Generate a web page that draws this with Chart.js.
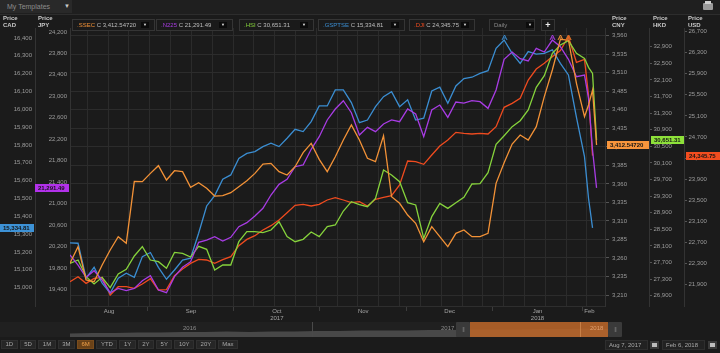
<!DOCTYPE html>
<html>
<head>
<meta charset="utf-8">
<title>Index comparison</title>
<script src="https://cdn.jsdelivr.net/npm/chart.js@4.4.1/dist/chart.umd.min.js"></script>
<style>
  html, body { margin: 0; padding: 0; background: #1b1b1b; }
  body { width: 720px; height: 353px; position: relative; overflow: hidden;
         font-family: "Liberation Sans", Arial, sans-serif; color: #9a9a9a; }
  canvas { position: absolute; left: 0; }
  .a { position: absolute; white-space: nowrap; }
  #topbar { left: 0; top: 0; width: 720px; height: 14px; background: #1f1f1f; border-bottom: 1px solid #2d2d2d; }
  #tpl { left: 0; top: 0; width: 72px; height: 13px; background: #292929; font-size: 7px; line-height: 13px; color: #8c8c8c; }
  .price { font-size: 6px; font-weight: bold; color: #c8c8c8; line-height: 7px; }
  .lg { top: 19px; height: 12px; box-sizing: border-box; border: 1px solid #353535; background: #1a1a1a;
        font-size: 6px; line-height: 10px; color: #bdbdbd; }
  .dd { position: absolute; top: 2px; width: 8px; height: 6px; background: #0b0b0b; color: #e0e0e0;
        font-size: 4px; line-height: 6px; text-align: center; }
  #btns { left: 1px; top: 340px; display: flex; gap: 2px; }
  #btns span { height: 9px; box-sizing: border-box; padding: 0 3.5px; background: #262626; border: 1px solid #303030;
               font-size: 6px; line-height: 7px; color: #a8a8a8; }
  #btns span.on { background: #6a4218; color: #f2a24a; border-color: #7a4c1c; }
  .date { top: 340px; height: 10px; box-sizing: border-box; background: #222; border: 1px solid #2e2e2e;
          font-size: 6px; line-height: 8px; color: #a8a8a8; padding-left: 3px; }
  .cal { top: 341px; width: 9px; height: 8px; background: #3a3a3a; }
  .cal i { position: absolute; left: 2px; top: 2px; width: 5px; height: 4px; background: #bdbdbd; }
  .navlbl { top: 325px; font-size: 6px; color: #8a8a8a; }
  .handle { top: 322px; width: 14px; height: 15px; background: #3a3a3a; border-radius: 1px;
            font-size: 6px; line-height: 15px; color: #777; text-align: center; letter-spacing: -1px; }
</style>
</head>
<body>
<canvas id="main" width="720" height="353"></canvas>

<div id="topbar" class="a"></div>
<div id="tpl" class="a"><span style="margin-left:7px">My Templates</span><span style="position:absolute;left:64px;font-size:6px;color:#ccc">&#9660;</span></div>
<div class="a" style="left:703px;top:3px;width:10px;height:7px;background:#9a9a9a;border-radius:1px"></div>
<div class="a" style="left:705px;top:1px;width:6px;height:3px;background:#cfcfcf"></div>

<div class="a price" style="left:3px;top:15px">Price<br>CAD</div>
<div class="a price" style="left:38px;top:15px">Price<br>JPY</div>
<div class="a price" style="left:612px;top:15px">Price<br>CNY</div>
<div class="a price" style="left:653px;top:15px">Price<br>HKD</div>
<div class="a price" style="left:688px;top:15px">Price<br>USD</div>

<div id="legend"></div>
<div class="a lg" style="left:489px;width:46px;color:#8a8a8a"><span style="margin-left:4px">Daily</span><span class="dd" style="left:36px">&#9660;</span></div>
<div class="a lg" style="left:541px;width:14px;text-align:center;color:#eee;font-size:9px;font-weight:bold">+</div>

<div class="a" style="left:0;top:322px;width:608px;height:15px;background:#202020"></div>
<canvas id="nav" width="720" height="15" style="top:322px"></canvas>
<div class="a" style="left:312px;top:322px;width:1px;height:15px;background:#4a4a4a"></div>
<div class="a" style="left:470px;top:322px;width:138px;height:15px;background:rgba(184,100,40,0.88)"></div>
<div class="a" style="left:580px;top:322px;width:1px;height:15px;background:rgba(230,160,100,0.5)"></div>
<div class="a navlbl" style="left:183px">2016</div>
<div class="a navlbl" style="left:441px">2017</div>
<div class="a navlbl" style="left:590px;color:#e0a070">2018</div>
<div class="a handle" style="left:456px">|||</div>
<div class="a handle" style="left:608px">|||</div>

<div id="btns" class="a">
  <span>1D</span><span>5D</span><span>1M</span><span>3M</span><span class="on">6M</span><span>YTD</span>
  <span>1Y</span><span>2Y</span><span>5Y</span><span>10Y</span><span>20Y</span><span>Max</span>
</div>
<div class="a date" style="left:605px;width:43px">Aug 7, 2017</div>
<div class="a cal" style="left:650px"><i></i></div>
<div class="a date" style="left:662px;width:43px">Feb 6, 2018</div>
<div class="a cal" style="left:708px"><i></i></div>

<script>
// trading-day index, Aug 7 2017 = 0 ... Feb 6 2018 = 131
const days = [0, 2, 4, 6, 8, 10, 12, 14, 16, 18, 20, 22, 24, 26, 28, 30, 32, 34, 36, 38,
  40, 42, 44, 46, 48, 50, 52, 54, 56, 58, 60, 62, 64, 66, 68, 70, 72, 74, 76, 78,
  80, 82, 84, 86, 88, 90, 92, 94, 96, 98, 100, 102, 104, 106, 108, 110, 112, 114, 116, 118,
  120, 122, 124, 126, 128, 129, 130, 131];

const ssec = [3252.8, 3275.3, 3230.3, 3228.0, 3250.5, 3270.8, 3288.8, 3280.0, 3363.4, 3363.0,
  3374.2, 3384.6, 3365.2, 3377.8, 3376.5, 3355.3, 3361.6, 3354.0, 3343.6, 3344.1,
  3348.1, 3356.2, 3364.3, 3374.2, 3386.8, 3387.7, 3376.5, 3372.0, 3383.2, 3402.1,
  3414.7, 3393.1, 3376.5, 3396.7, 3419.2, 3439.5, 3419.2, 3394.5, 3390.0, 3425.0,
  3342.7, 3333.8, 3318.0, 3306.8, 3282.0, 3302.3, 3288.8, 3275.3, 3293.3, 3297.8,
  3288.8, 3288.8, 3293.3, 3360.7, 3388.6, 3413.8, 3426.0, 3419.2, 3437.2, 3477.7,
  3513.7, 3555.1, 3554.2, 3495.7, 3450.7, 3466.5, 3486.7, 3412.5472];

const n225 = [20040, 19853, 19623, 19747, 19573, 19337, 19418, 19375, 19418, 19561,
  19654, 19387, 19337, 19636, 19810, 19915, 20276, 20319, 20381, 20301,
  20369, 20568, 20642, 20767, 20910, 21158, 21357, 21450, 21686, 21718,
  22010, 22246, 22557, 22762, 22917, 22693, 22277, 22420, 22339, 22482,
  22557, 22525, 22762, 22668, 22246, 22743, 22836, 22606, 22892, 22873,
  22917, 22898, 22774, 23116, 23688, 23824, 23700, 23657, 23893, 23824,
  24048, 23924, 23688, 23364, 23395, 22960, 21997, 21291.49];

const hsi = [27680, 27760, 27359, 27182, 27343, 27094, 27423, 27535, 27857, 28082,
  27760, 27720, 27560, 27945, 27921, 27833, 28090, 28017, 27519, 27640,
  27640, 28202, 28443, 28443, 28419, 28483, 28684, 28323, 28202, 28258,
  28435, 28323, 28564, 28604, 28941, 29166, 29094, 29045, 29246, 29929,
  29809, 29648, 29142, 29086, 28282, 28805, 29126, 29005, 29142, 29270,
  29592, 29600, 29865, 30547, 30756, 30973, 31118, 31375, 31921, 32202,
  32740, 32941, 33045, 32740, 32620, 32403, 32258, 30651.31];

const gsptse = [15251, 15249, 15053, 15114, 15025, 14969, 15053, 15081, 15058, 15174,
  15197, 15114, 15047, 15099, 15155, 15165, 15305, 15458, 15516, 15608,
  15632, 15725, 15753, 15763, 15791, 15810, 15791, 15838, 15888, 15875,
  15931, 16019, 16019, 16109, 16109, 16038, 15925, 15940, 16015, 16071,
  16099, 16015, 16053, 15940, 15950, 16103, 16124, 16034, 16131, 16172,
  16180, 16202, 16217, 16342, 16389, 16314, 16258, 16324, 16310, 16314,
  16333, 16258, 16193, 15955, 15735, 15501, 15334.81, null];

const dji = [21950, 22045, 21918, 22013, 22032, 21697, 21855, 21855, 21823, 21906,
  22007, 21792, 21798, 22064, 22191, 22298, 22374, 22362, 22298, 22368,
  22425, 22634, 22754, 22824, 22932, 23014, 23122, 23261, 23401, 23420,
  23388, 23420, 23502, 23546, 23502, 23451, 23470, 23388, 23515, 23553,
  23584, 23787, 24243, 24230, 24180, 24357, 24528, 24642, 24788, 24769,
  24756, 24769, 24756, 24895, 25263, 25339, 25434, 25782, 25991, 26099,
  26226, 26340, 26606, 26118, 26175, 25497, 24345.75, null];

const monthNames = [['Aug'], ['Sep'], ['Oct', '2017'], ['Nov'], ['Dec'], ['Jan', '2018'], ['Feb']];
const monthBounds = [19.4, 40.8, 62.1, 83.8, 105.1, 127.5];

// navigator: monthly overview Feb 2016 .. Feb 2018
const navLevel = [3.5, 4, 4, 4.5, 4.5, 5, 5, 5.5, 5, 5.5, 5.5, 6, 6, 6.5, 6.5, 6.5, 7, 7, 7.5, 7.5, 7.5, 8, 8, 8.5, 8];

const series = [
  { code: '.SSEC',   vals: ssec,   axis: 'yCny', color: '#f39237', tag: '#f7953c', dec: 5 },
  { code: '.N225',   vals: n225,   axis: 'yJpy', color: '#a83ce4', tag: '#b231ea', dec: 2 },
  { code: '.HSI',    vals: hsi,    axis: 'yHkd', color: '#86d33c', tag: '#8ee13a', dec: 2 },
  { code: '.GSPTSE', vals: gsptse, axis: 'yCad', color: '#3b8ed2', tag: '#3d92d6', dec: 2 },
  { code: '.DJI',    vals: dji,    axis: 'yUsd', color: '#ef4b1f', tag: '#f24d1f', dec: 2 }
];

const FONT = '"Liberation Sans", Arial, sans-serif';
Chart.defaults.font.family = FONT;
Chart.defaults.font.size = 6;
Chart.defaults.color = '#9c9c9c';

function lastVal(s) {
  const v = s.vals.filter(x => x !== null);
  return v[v.length - 1];
}
function fmt(v, d) {
  return v.toLocaleString('en-US', { minimumFractionDigits: d, maximumFractionDigits: d });
}

// legend boxes
const lgPos = [[72, 83], [156, 77], [239, 75], [318, 87], [409, 66]];
const legend = document.getElementById('legend');
series.forEach((s, i) => {
  const [l, w] = lgPos[i];
  const d = document.createElement('div');
  d.className = 'a lg';
  d.style.left = l + 'px';
  d.style.width = w + 'px';
  d.innerHTML = '<span style="margin-left:4px;color:' + s.color + '">' + s.code + '</span> C ' +
    fmt(lastVal(s), s.dec) + '<span class="dd" style="left:' + (w - 15) + 'px">&#9660;</span>';
  legend.appendChild(d);
});

// ticks at anchor + k*step, leaving out labels that would sit on the plot edge
function stepTicks(step, anchor) {
  return sc => {
    const edge = 3 * (sc.max - sc.min) / 278;
    const t = [];
    let v = anchor + Math.ceil((sc.min - anchor) / step) * step;
    for (; v <= sc.max; v += step) {
      if (v > sc.min + edge && v < sc.max - edge) t.push({ value: v });
    }
    sc.ticks = t;
  };
}
const fmtTick = v => v.toLocaleString('en-US');

function yAxis(pos, weight, width, min, max, step, anchor, extra) {
  const right = pos === 'right';
  return Object.assign({
    type: 'linear', position: pos, weight: weight, min: min, max: max, bounds: 'data',
    afterBuildTicks: stepTicks(step, anchor),
    afterFit: sc => { sc.width = width; },
    border: { color: '#333', width: 1 },
    grid: { drawOnChartArea: false, drawTicks: right, tickLength: 3, color: '#555' },
    ticks: { padding: right ? 1.5 : 3, color: '#9c9c9c', font: { size: 6 }, callback: fmtTick, autoSkip: false }
  }, extra || {});
}

const tagPlugin = {
  id: 'tags',
  afterDatasetsDraw(chart) {
    // period-high markers along the top of the plot
    const ctx = chart.ctx;
    ctx.save();
    ctx.lineWidth = 1;
    series.forEach(s => {
      let hi = 0;
      s.vals.forEach((v, i) => { if (v !== null && v > s.vals[hi]) hi = i; });
      const x = Math.round(chart.scales.x.getPixelForValue(days[hi])) + 0.5;
      const y = chart.chartArea.top + 7;
      ctx.strokeStyle = s.color;
      ctx.beginPath();
      ctx.moveTo(x - 2.5, y + 5);
      ctx.lineTo(x, y);
      ctx.lineTo(x + 2.5, y + 5);
      ctx.moveTo(x - 1.2, y + 3);
      ctx.lineTo(x + 1.2, y + 3);
      ctx.stroke();
    });
    ctx.restore();
  },
  afterDraw(chart) {
    const ctx = chart.ctx;
    ctx.save();
    ctx.font = 'bold 6px ' + FONT;
    ctx.textBaseline = 'middle';
    series.forEach(s => {
      const sc = chart.scales[s.axis];
      const v = lastVal(s);
      const y = Math.round(sc.getPixelForValue(v));
      const x0 = sc.position === 'left' ? sc.left : sc.left + 2;
      const x1 = sc.position === 'left' ? sc.right - 1 : sc.right;
      ctx.fillStyle = s.tag;
      ctx.fillRect(x0, y - 4, x1 - x0, 8);
      ctx.fillStyle = '#151515';
      ctx.fillText(fmt(v, s.dec), x0 + 3, y + 0.5);
    });
    ctx.restore();
  }
};

new Chart(document.getElementById('main'), {
  type: 'line',
  data: {
    datasets: series.map(s => ({
      label: s.code,
      data: days.map((d, i) => ({ x: d, y: s.vals[i] })),
      yAxisID: s.axis,
      borderColor: s.color,
      backgroundColor: s.color,
      borderWidth: 1.3,
      pointRadius: 0,
      tension: 0,
      spanGaps: false
    }))
  },
  options: {
    responsive: false,
    animation: false,
    events: [],
    layout: { padding: { top: 28, bottom: 31, left: 0, right: 0 } },
    plugins: { legend: { display: false }, tooltip: { enabled: false } },
    scales: {
      x: {
        type: 'linear', position: 'bottom', weight: 0, min: 0, max: 133.1, bounds: 'data',
        afterBuildTicks: sc => {
          const t = [];
          for (let v = 4.3; v < sc.max; v += 5.18) t.push({ value: v });
          sc.ticks = t;
        },
        afterFit: sc => { sc.height = 0; },
        grid: { color: '#2b2b2b', drawTicks: false },
        border: { display: true, color: '#2e2e2e' },
        ticks: { display: false }
      },
      xm: {
        type: 'linear', position: 'bottom', weight: 1, min: 0, max: 133.1, bounds: 'data',
        afterBuildTicks: sc => {
          const edges = [0].concat(monthBounds, [131]);
          const t = monthBounds.map(b => ({ value: b, txt: '' }));
          monthNames.forEach((m, i) => t.push({ value: (edges[i] + edges[i + 1]) / 2, txt: m }));
          t.sort((a, b) => a.value - b.value);
          sc.ticks = t;
        },
        afterFit: sc => { sc.height = 16; },
        grid: { drawOnChartArea: false, tickLength: 5,
                color: c => (c.tick && c.tick.txt === '') ? '#3c3c3c' : 'rgba(0,0,0,0)' },
        border: { display: false },
        ticks: { autoSkip: false, maxRotation: 0, padding: -3, color: '#a4a4a4', font: { size: 6 },
                 callback: (v, i, t) => t[i].txt }
      },
      yCad: yAxis('left', 2, 35, 14897, 16456, 100, 15000),
      yJpy: yAxis('left', 1, 35, 19089, 24272, 400, 19400),
      yCny: yAxis('right', 1, 44, 3195.2, 3570.4, 25, 3210, {
        grid: { drawOnChartArea: true, drawTicks: true, tickLength: 4, color: '#2c2c2c', tickColor: '#555' },
        ticks: { padding: 3, color: '#9c9c9c', font: { size: 6 }, callback: fmtTick, autoSkip: false }
      }),
      yHkd: yAxis('right', 2, 35, 26652, 33351, 400, 26900),
      yUsd: yAxis('right', 3, 36, 21488, 26770, 400, 21900)
    }
  },
  plugins: [tagPlugin]
});

new Chart(document.getElementById('nav'), {
  type: 'line',
  data: {
    datasets: [{
      data: navLevel.map((v, i) => ({ x: i, y: v })),
      fill: 'origin',
      backgroundColor: '#484848',
      borderWidth: 0,
      pointRadius: 0
    }]
  },
  options: {
    responsive: false,
    animation: false,
    events: [],
    layout: { padding: { left: 70, right: 112, top: 0, bottom: 0 } },
    plugins: { legend: { display: false }, tooltip: { enabled: false } },
    scales: {
      x: { type: 'linear', display: false, min: 0, max: 24 },
      y: { display: false, min: 0, max: 15 }
    }
  }
});
</script>
</body>
</html>
